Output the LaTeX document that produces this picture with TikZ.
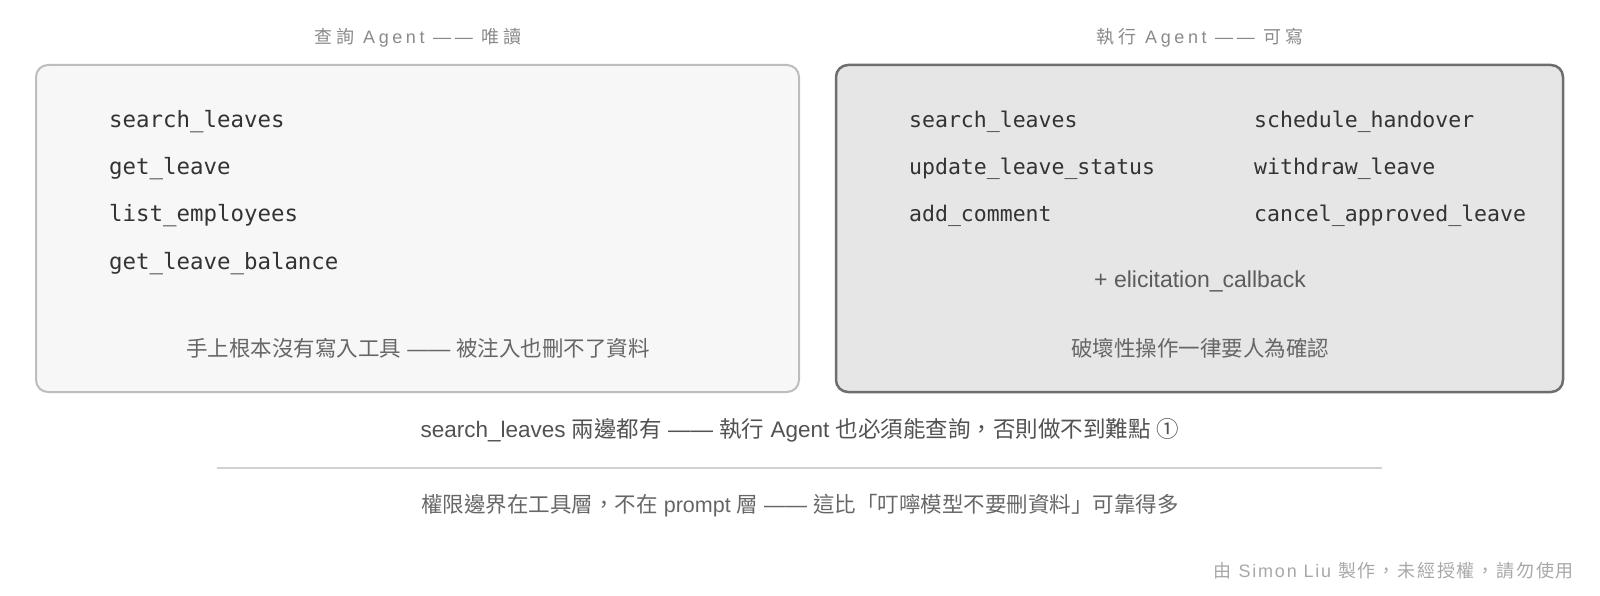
\documentclass[tikz,border=0pt]{standalone}
\usepackage{fontspec}
\setmainfont{Liberation Sans}
\newfontfamily\latfont{Liberation Sans}
\newfontfamily\cjkfont{Noto Sans CJK TC}
\newfontfamily\latwide[LetterSpace=20]{Liberation Sans}
\newfontfamily\cjkwide[LetterSpace=20]{Noto Sans CJK TC}
\newfontfamily\latmid[LetterSpace=10]{Liberation Sans}
\newfontfamily\cjkmid[LetterSpace=10]{Noto Sans CJK TC}
\newfontfamily\codefont{DejaVu Sans Mono}
\usetikzlibrary{positioning}

% CJK characters switch to the CJK family
\XeTeXinterchartokenstate=1
\newXeTeXintercharclass\CJKcls
\newcount\cjkcode
\def\setcjkrange#1#2{\cjkcode=#1 \loop\ifnum\cjkcode<#2 \XeTeXcharclass\cjkcode=\CJKcls \advance\cjkcode by 1 \repeat}
\setcjkrange{"3000}{"3040}
\setcjkrange{"4E00}{"A000}
\setcjkrange{"FF00}{"FFF0}
\setcjkrange{"2460}{"2500}
\XeTeXinterchartoks 0 \CJKcls = {\cjkfont}
\XeTeXinterchartoks 4095 \CJKcls = {\cjkfont}
\XeTeXinterchartoks \CJKcls 0 = {\latfont}
\XeTeXinterchartoks \CJKcls 4095 = {\latfont}

\definecolor{boxgrayA}{HTML}{F7F7F7}
\definecolor{boxgrayB}{HTML}{E6E6E6}
\definecolor{rimA}{HTML}{BDBDBD}
\definecolor{rimB}{HTML}{6E6E6E}
\definecolor{inkA}{HTML}{333333}
\definecolor{inkB}{HTML}{666666}
\definecolor{inkC}{HTML}{8A8A8A}
\definecolor{inkD}{HTML}{A8A8A8}

\begin{document}
\begin{tikzpicture}[x=1pt,y=-1pt,
    tool/.style={font=\codefont\fontsize{22.4}{26}\selectfont, text=inkA, anchor=west, inner sep=0pt},
    tool2/.style={tool, font=\codefont\fontsize{21.5}{26}\selectfont},
    heading/.style={font=\let\latfont\latwide\let\cjkfont\cjkwide\latfont\fontsize{18}{22}\selectfont, text=inkC, inner sep=0pt},
    remark/.style={font=\fontsize{21.5}{26}\selectfont, text=inkB, inner sep=0pt}]
    \useasboundingbox (0,0) rectangle (1600,596);

    % headings
    \node[heading] (qhead) at (418,38) {查詢 Agent —— 唯讀};
    \node[heading] (xhead) at (1200,38) {執行 Agent —— 可寫};

    \filldraw[fill=boxgrayA, draw=rimA, line width=2pt, rounded corners=12pt] (36,65) rectangle (799,392);% draw the box
    \node[tool] (qa) at (109,122) {search\_leaves};
    \node[tool] (qb) at (109,169) {get\_leave};
    \node[tool] (qc) at (109,216) {list\_employees};
    \node[tool] (qd) at (109,264) {get\_leave\_balance};
    \node[remark] (qnote) at (418,348) {手上根本沒有寫入工具 —— 被注入也刪不了資料};


    \filldraw[fill=boxgrayB, draw=rimB, line width=2.5pt, rounded corners=12pt] (836,65) rectangle (1563,392);% draw the box
    \node[tool2] (xa) at (909,122) {search\_leaves};
    \node[tool2] (xb) at (909,169) {update\_leave\_status};
    \node[tool2] (xc) at (909,216) {add\_comment};
    \node[tool2] (xd) at (1254,122) {schedule\_handover};
    \node[tool2] (xe) at (1254,169) {withdraw\_leave};
    \node[tool2] (xf) at (1254,216) {cancel\_approved\_leave};
    \node[remark, font=\fontsize{23}{26}\selectfont, text=inkA!80] (xcb) at (1200,281) {+ elicitation\_callback};
    \node[remark] (xnote) at (1200,348) {破壞性操作一律要人為確認};


    % notes under the boxes
    \node[remark, font=\fontsize{22.5}{26}\selectfont, text=inkA!85] (both) at (800,430) {search\_leaves 兩邊都有 —— 執行 Agent 也必須能查詢，否則做不到難點 ①};
    \draw[draw=black!18, line width=2pt] (217,468) -- (1382,468);
    \node[remark] (layer) at (800,506) {權限邊界在工具層，不在 prompt 層 —— 這比「叮嚀模型不要刪資料」可靠得多};

    \node[font=\let\latfont\latmid\let\cjkfont\cjkmid\latfont\fontsize{18}{22}\selectfont, text=inkD, inner sep=0pt, anchor=east] (credit) at (1574,571) {由 Simon Liu 製作，未經授權，請勿使用};

\end{tikzpicture}
\end{document}
